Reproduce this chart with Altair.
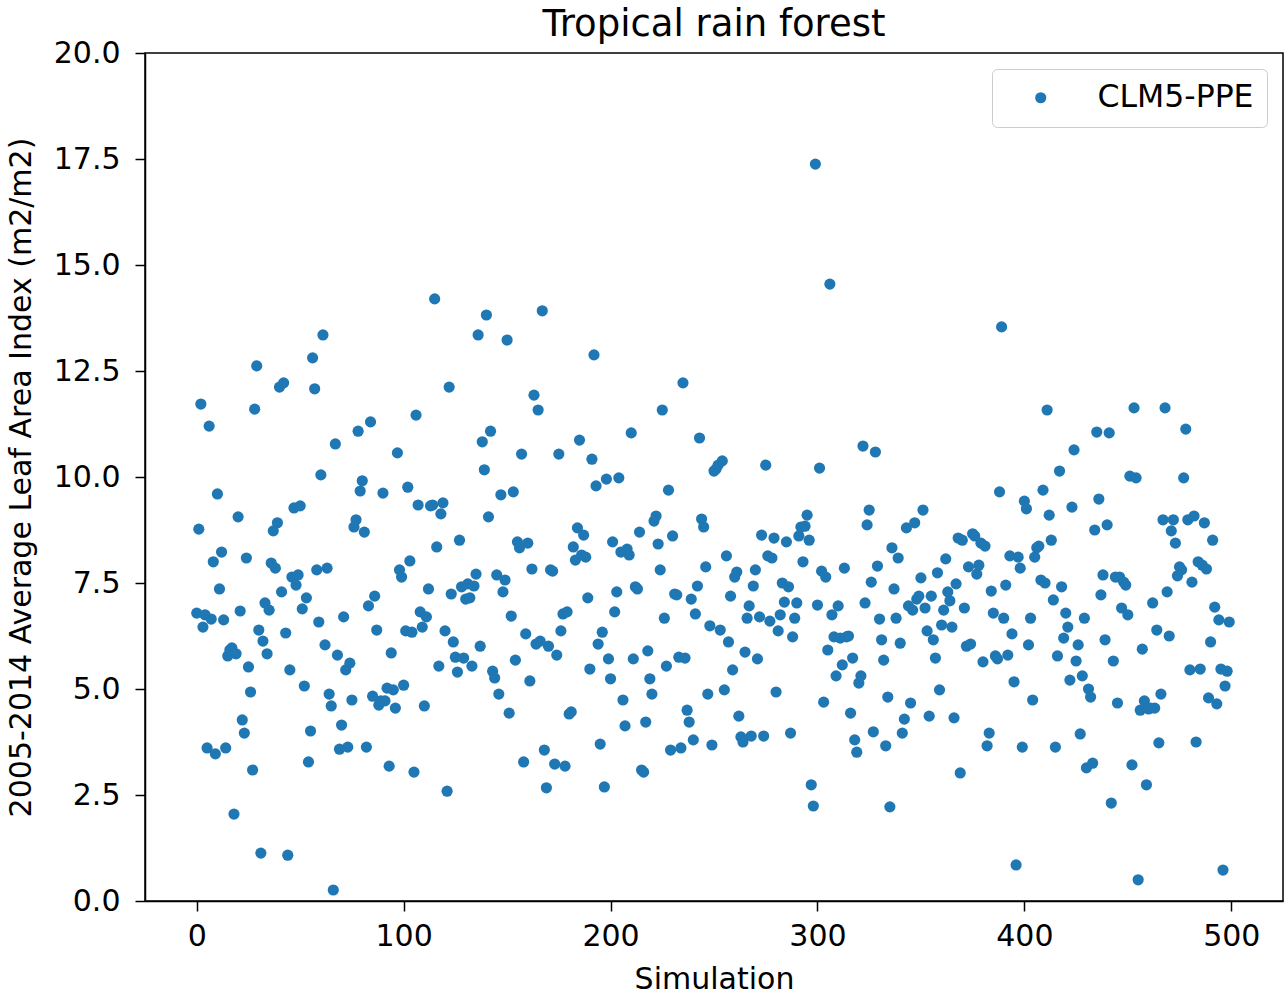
import altair as alt
import pandas as pd

lai = [
    6.79, 8.77, 11.72, 6.46, 6.75, 3.61, 11.20, 6.65, 8.00, 3.47,
    9.60, 7.36, 8.23, 6.63, 3.61, 5.78, 5.92, 5.97, 2.05,
    5.83, 9.06, 6.84, 4.27, 3.96, 8.09, 5.52, 4.93, 3.09, 11.60,
    12.62, 6.39, 1.13, 6.13, 7.03, 5.83, 6.86, 7.97, 8.73, 7.85,
    8.92, 12.12, 7.29, 12.22, 6.32, 1.08, 5.45, 7.64, 9.27, 7.45,
    7.69, 9.32, 6.89, 5.07, 7.15, 3.28, 4.01, 12.81, 12.08,
    7.81, 6.58, 10.05, 13.35, 6.04, 7.85, 4.88, 4.60, 0.26, 10.78,
    5.80, 3.58, 4.15, 6.70, 5.45, 3.63, 5.61, 4.74, 8.82, 8.99,
    11.08, 9.67, 9.91, 8.70, 3.63, 6.96, 11.30, 4.83, 7.19, 6.39,
    4.62, 4.72, 9.62, 4.72, 5.02, 3.18, 5.85, 4.98, 4.55,
    10.57, 7.81, 7.64, 5.09, 6.37, 9.76, 8.02, 6.34, 3.04, 11.46,
    9.34, 6.82, 6.46, 4.60, 6.70, 7.36, 9.32, 9.34, 14.20, 8.35,
    5.54, 9.13, 9.39, 6.37, 2.59, 12.12, 7.24, 6.11, 5.75,
    5.40, 8.51, 7.41, 5.73, 7.12, 7.48, 7.15, 5.54, 7.43, 7.71,
    13.35, 6.01, 10.83, 10.17, 13.82, 9.06, 11.08, 5.42, 5.26, 7.69,
    4.88, 9.58, 7.29, 7.57, 13.23, 4.43, 6.72, 9.65, 5.68,
    8.47, 8.33, 10.54, 3.28, 6.30, 8.44, 5.19, 7.83, 11.93, 6.06,
    11.58, 6.13, 13.92, 3.56, 2.67, 6.01, 7.81, 7.78, 3.23, 5.80,
    10.54, 6.37, 6.77, 3.18, 6.82, 4.41, 4.46, 8.35, 8.04,
    8.80, 10.87, 8.16, 8.63, 8.11, 7.15, 5.47, 10.42, 12.88, 9.79,
    6.06, 3.70, 6.34, 2.69, 9.95, 5.71, 5.24, 8.47, 6.82, 7.29,
    9.98, 8.23, 4.74, 4.13, 8.30, 8.16, 11.04, 5.71, 7.41, 7.36,
    8.70, 3.09, 3.04, 4.22, 5.90, 5.24, 4.88, 8.96, 9.08,
    8.42, 7.81, 11.58, 6.67, 5.54, 9.69, 3.56, 8.61, 7.24, 7.22,
    5.75, 3.61, 12.22, 5.73, 4.50, 4.22, 7.12, 3.80, 6.77,
    7.43, 10.92, 9.01, 8.82, 7.88, 4.88, 6.49, 3.68, 10.14, 10.19,
    10.28, 6.39, 10.38, 4.98, 8.14, 6.11, 7.19, 5.45, 7.64, 7.76,
    4.36, 3.87, 3.75, 5.87, 6.67, 6.96, 3.89, 7.43, 7.81, 5.71,
    6.70, 8.63, 3.89, 10.28, 8.14, 6.60, 8.09, 8.56, 4.93, 6.37,
    6.75, 7.50, 7.05, 8.47, 7.41, 3.96, 6.23, 6.67, 7.03,
    8.61, 8.82, 8.00, 8.84, 9.10, 8.51, 2.74, 2.24, 17.38, 6.98,
    10.21, 7.78, 4.69, 7.64, 5.92, 14.55, 6.75, 6.23, 5.31, 6.96,
    6.20, 5.57, 7.85, 6.23, 6.25, 4.43, 5.73, 3.80, 3.51,
    5.14, 5.31, 10.73, 7.03, 8.87, 9.22, 7.52, 3.99, 10.59, 7.90,
    6.65, 6.16, 5.68, 3.66, 4.81, 2.22, 8.33, 7.36, 6.67, 8.09,
    6.08, 3.96, 4.29, 8.80, 6.96, 4.67, 6.86, 8.92, 7.12, 7.19,
    7.62, 9.22, 6.91, 6.37, 4.36, 7.19, 6.16, 5.73, 7.74, 4.98,
    6.51, 6.86, 8.07, 7.29, 7.08, 6.46, 4.32, 7.48, 8.56,
    3.02, 8.51, 6.91, 6.01, 7.88, 6.06, 8.66, 8.61, 7.71, 7.92,
    8.44, 5.64, 8.37, 3.66, 3.96, 7.31, 6.79, 5.78, 5.71, 9.65,
    13.54, 6.67, 7.45, 5.80, 8.14, 6.30, 5.17, 0.85, 8.11,
    7.85, 3.63, 9.43, 9.25, 6.04, 6.67, 4.74, 8.11, 8.33, 8.37,
    7.57, 9.69, 7.50, 11.58, 9.10, 8.51, 7.10, 3.63, 5.78, 10.14,
    7.41, 6.20, 6.79, 6.46, 5.21, 9.29, 10.64, 5.66, 6.04, 3.94,
    5.31, 6.67, 3.14, 5.00, 4.81, 3.25, 8.75, 11.06, 9.48,
    7.22, 7.69, 6.16, 8.87, 11.04, 2.31, 5.66, 7.64, 4.67, 7.64,
    6.91, 7.52, 7.45, 6.75, 10.02, 3.21, 11.63, 9.98, 0.50, 4.50,
    5.94, 4.72, 2.74, 4.53, 4.55, 7.03, 4.55, 6.39, 3.73, 4.88,
    8.99, 11.63, 7.29, 6.25, 8.73, 8.99, 8.44, 7.67, 7.88, 7.81,
    9.98, 11.13, 8.99, 5.45, 7.52, 9.08, 3.75, 8.00, 5.47, 7.92,
    8.92, 7.83, 4.79, 6.11, 8.51, 6.93, 4.65, 6.63, 5.47, 0.73,
    5.07, 5.42, 6.58,
]
simulations = list(range(len(lai)))
series_name = "CLM5-PPE"
x_ticks = [0, 100, 200, 300, 400, 500]
y_ticks = [0.0, 2.5, 5.0, 7.5, 10.0, 12.5, 15.0, 17.5, 20.0]

df = pd.DataFrame({
    "Simulation": simulations,
    "LAI": lai,
    "series": [series_name] * len(lai),
})

FONT = "DejaVu Sans"

chart = alt.Chart(df).mark_circle(size=125, opacity=1).encode(
    x=alt.X("Simulation:Q",
            scale=alt.Scale(domain=[-25, 525], nice=False, zero=False),
            axis=alt.Axis(values=x_ticks, format="d", title="Simulation",
                          labelPadding=10, titlePadding=13)),
    y=alt.Y("LAI:Q",
            scale=alt.Scale(domain=[0, 20], nice=False),
            axis=alt.Axis(values=y_ticks, format=".1f",
                          title="2005-2014 Average Leaf Area Index (m2/m2)",
                          labelPadding=15, titlePadding=17)),
    color=alt.Color("series:N",
                    scale=alt.Scale(domain=[series_name], range=["#1f77b4"]),
                    legend=alt.Legend(title=None, orient="top-right", offset=16,
                                      padding=13, cornerRadius=5,
                                      strokeColor="#cccccc", fillColor="white",
                                      symbolType="circle", symbolSize=125,
                                      symbolOffset=20, labelOffset=41,
                                      labelFont=FONT, labelFontSize=31.5,
                                      labelColor="black")),
).properties(
    width=1138,
    height=848,
    title=alt.Title("Tropical rain forest", font=FONT, fontSize=37,
                    fontWeight="normal", color="black", offset=-6),
    padding={"left": 145, "top": 53, "right": 3, "bottom": 94},
    autosize=alt.AutoSizeParams(type="none"),
).configure_view(
    stroke="black", strokeWidth=1.5
).configure_axis(
    grid=False, domainColor="black", domainWidth=1.5,
    tickColor="black", tickWidth=1.5, tickSize=10,
    labelFont=FONT, labelFontSize=30, labelColor="black",
    titleFont=FONT, titleFontSize=30, titleFontWeight="normal", titleColor="black",
)

chart.save("out.html", embed_options={"renderer": "svg", "actions": False})
